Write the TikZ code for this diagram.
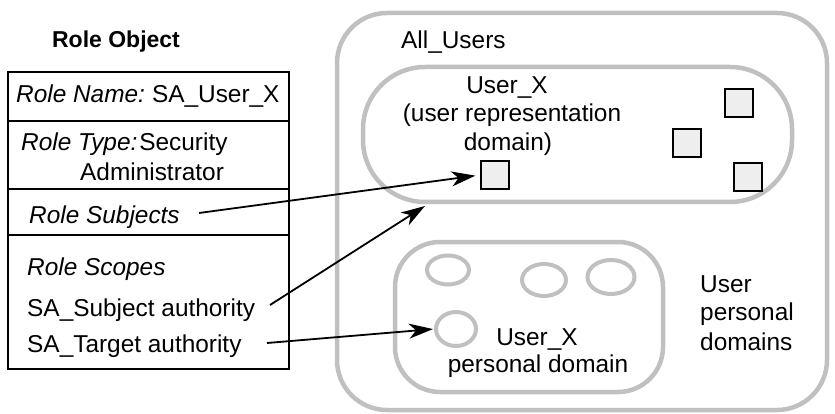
\documentclass[tikz,border=0pt]{standalone}
\usepackage{fontspec}
\setmainfont{Liberation Sans}
\usetikzlibrary{shapes.geometric,arrows.meta}
\definecolor{domgray}{RGB}{192,192,192}
\definecolor{objfill}{RGB}{238,238,238}
\tikzset{
  txt/.style={inner sep=0pt, font=\fontsize{24.4}{28}\selectfont},
  rowbox/.style={draw, line width=1.6pt, inner sep=0pt, minimum width=281pt},
  dombox/.style={draw=domgray, line width=4.5pt, inner sep=0pt},
  obj/.style={draw, fill=objfill, line width=1.3pt, minimum size=28pt, inner sep=0pt},
  pd/.style={draw=domgray, line width=4pt, ellipse, inner sep=0pt},
  link/.style={line width=1.8pt, -{Stealth[length=24pt, width=15pt, inset=7pt]}}
}
\begin{document}
\begin{tikzpicture}[x=1pt, y=-1pt]
  \useasboundingbox (0,0) rectangle (835,414);

  % role object table
  \node[txt, font=\fontsize{23}{28}\selectfont\bfseries, anchor=base] (title) at (116,48) {Role Object};
  \node[rowbox, minimum height=49pt] (rowname) at (148.5,96.5) {};
  \node[rowbox, minimum height=68pt] (rowtype) at (148.5,155) {};
  \node[rowbox, minimum height=46pt] (rowsubj) at (148.5,212) {};
  \node[rowbox, minimum height=134pt] (rowscope) at (148.5,302) {};

  \node[txt, anchor=base west] (rname) at (16,103) {\textit{Role Name:}\kern7pt SA\_User\_X};
  \node[txt, anchor=base west] (rtype) at (21,151) {\textit{Role Type:}\kern2pt Security};
  \node[txt, anchor=base west] (radmin) at (80,181) {Administrator};
  \node[txt, anchor=base west] (rsubj) at (29,223) {\textit{Role Subjects}};
  \node[txt, anchor=base west] (rscope) at (27,275) {\textit{Role Scopes}};
  \node[txt, anchor=base west] (rsubauth) at (27,316) {SA\_Subject authority};
  \node[txt, anchor=base west] (rtgtauth) at (27,352) {SA\_Target authority};

  % domains
  \node[dombox, rounded corners=50pt, minimum width=490pt, minimum height=397pt] (allusers) at (582,211.5) {};
  \node[txt, anchor=base west] (alllabel) at (401,49) {All\_Users};

  \node[dombox, rounded corners=62pt, minimum width=429pt, minimum height=135pt] (repdom) at (577.5,134.5) {};
  \node[txt, anchor=base] (replabel1) at (507,94) {User\_X};
  \node[txt, anchor=base] (replabel2) at (512,122) {(user representation};
  \node[txt, anchor=base] (replabel3) at (508,151) {domain)};

  \node[obj] (sq1) at (495,175) {};
  \node[obj] (sq2) at (739,103) {};
  \node[obj] (sq3) at (687,143) {};
  \node[obj] (sq4) at (748,177) {};

  \node[dombox, rounded corners=45pt, minimum width=268pt, minimum height=150pt] (perdom) at (529,317) {};
  \node[pd, minimum width=42pt, minimum height=29pt] (e1) at (448,270) {};
  \node[pd, minimum width=44pt, minimum height=32pt] (e2) at (544,280) {};
  \node[pd, minimum width=47pt, minimum height=34pt] (e3) at (611,277) {};
  \node[pd, minimum width=40pt, minimum height=34pt] (e4) at (456,329) {};
  \node[txt, anchor=base] (perlabel1) at (537,345) {User\_X};
  \node[txt, anchor=base] (perlabel2) at (538,372) {personal domain};

  \node[txt, anchor=base west] (upd1) at (700,292) {User};
  \node[txt, anchor=base west] (upd2) at (700,320) {personal};
  \node[txt, anchor=base west] (upd3) at (700,350) {domains};

  % links from the role object
  \coordinate (subjtail) at (199,213);
  \coordinate (subauthtail) at (270,305);
  \coordinate (tgtauthtail) at (267,343);
  \coordinate (repedge) at (425,206);

  \draw[link, shorten >=5pt] (subjtail) -- (sq1.west);
  \draw[link] (subauthtail) -- (repedge);
  \draw[link, shorten >=1pt] (tgtauthtail) -- (e4.west);
\end{tikzpicture}
\end{document}
